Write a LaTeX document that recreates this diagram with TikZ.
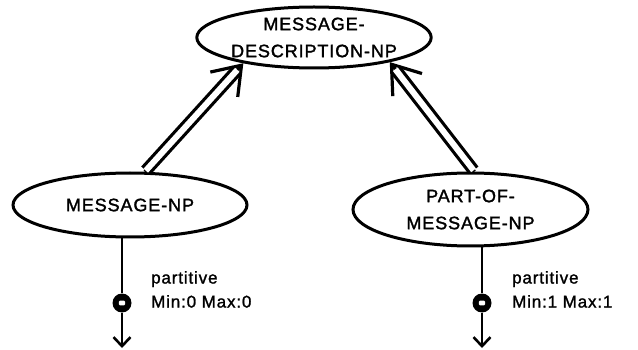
\documentclass[tikz,border=0pt]{standalone}
\usepackage{fontspec}
\setmainfont{Liberation Sans}
\newfontfamily\conceptfont[LetterSpace=5,FakeBold=1.6]{Liberation Sans}
\newfontfamily\tagfont[LetterSpace=5,FakeBold=1.4]{Liberation Sans}
\usetikzlibrary{shapes.geometric,arrows.meta}

\tikzset{
  concept/.style={ellipse, draw, line width=3pt, inner sep=0pt, align=center,
    font=\conceptfont\fontsize{18}{27}\selectfont},
  slot/.style={circle, fill=black, minimum size=19pt, inner sep=0pt,
    path picture={\fill[white, rounded corners=1.2pt]
      ([xshift=-3.2pt,yshift=-2.3pt]path picture bounding box.center) rectangle ++(6.4pt,4.6pt);}},
  tag/.style={anchor=north west, align=left, inner sep=0pt,
    font=\tagfont\fontsize{17}{24}\selectfont},
  stem/.style={line width=2.6pt},
  stemend/.style={stem, -{Straight Barb[length=9pt,width=17pt]}},
  isatip/.style={line width=3.2pt, -{Straight Barb[length=26pt,width=37pt]}},
  isashaft/.style={line width=3.2pt, double=white, double distance=6pt,
    shorten >=9pt, shorten <=1.5pt},
}

\begin{document}
\begin{tikzpicture}[x=1pt,y=-1pt]
  \useasboundingbox (0,0) rectangle (638,350);

  % concept nodes
  \node[concept, minimum width=234pt, minimum height=61pt] (mdnp) at (314,37.5)
    {MESSAGE-\\DESCRIPTION-NP};
  \node[concept, minimum width=234pt, minimum height=64pt] (mnp) at (130,205)
    {MESSAGE-NP};
  \node[concept, minimum width=235pt, minimum height=73pt] (pomnp) at (470.5,209.5)
    {PART-OF-\\MESSAGE-NP};

  % role slots
  \node[slot] (s1) at (122,303) {};
  \node[slot] (s2) at (482,303) {};
  \coordinate (e1) at (122,348);
  \coordinate (e2) at (482,348);

  \node[tag] (t1) at (151,271) {partitive\\Min:0 Max:0};
  \node[tag] (t2) at (512,271) {partitive\\Min:1 Max:1};

  % role links
  \draw[stem] (mnp.south -| s1) -- (s1);
  \draw[stemend] (s1) -- (e1);
  \draw[stem] (pomnp.south -| s2) -- (s2);
  \draw[stemend] (s2) -- (e2);

  % subsumption links
  \draw[isatip] (mnp.66) -- (mdnp.200);
  \draw[isashaft] (mnp.66) -- (mdnp.200);
  \draw[isatip] (pomnp.84) -- (mdnp.342.5);
  \draw[isashaft] (pomnp.84) -- (mdnp.342.5);
\end{tikzpicture}
\end{document}
